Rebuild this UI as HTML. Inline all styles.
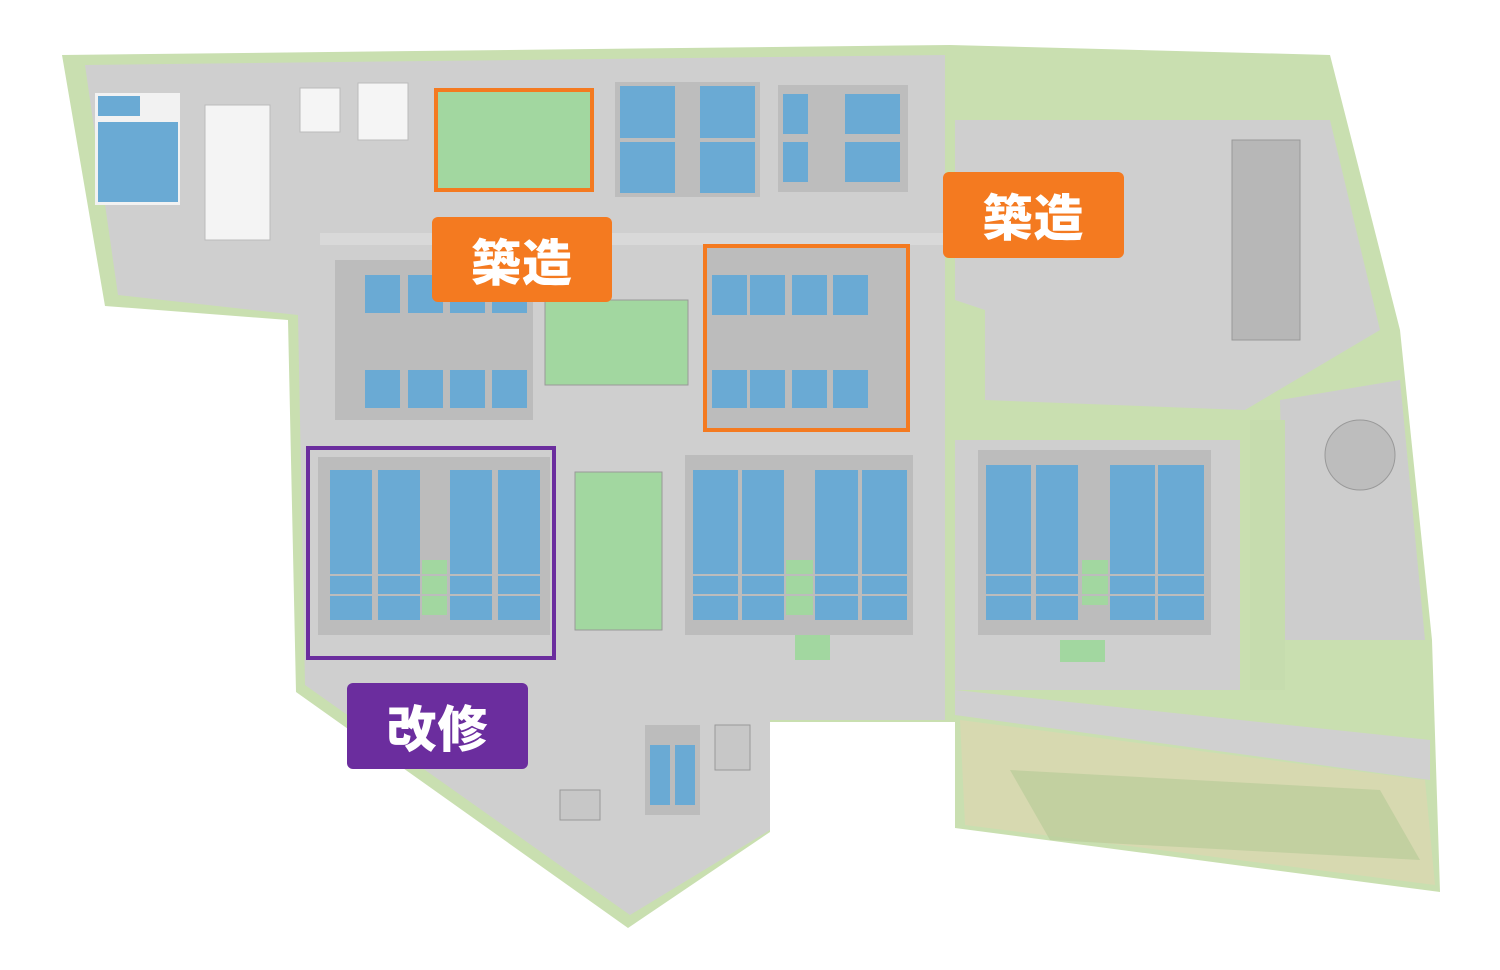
<!DOCTYPE html>
<html><head><meta charset="utf-8"><style>
html,body{margin:0;padding:0;background:#fff;}
.lab{position:absolute;color:#fff;font-family:"Liberation Sans","Noto Sans CJK JP",sans-serif;font-weight:900;font-size:50px;display:flex;align-items:center;justify-content:center;border-radius:6px;letter-spacing:1px;}
</style></head><body>
<div style="position:relative;width:1500px;height:970px;overflow:hidden;">
<svg width="1500" height="970" viewBox="0 0 1500 970" style="position:absolute;left:0;top:0">
<!-- site -->
<polygon points="62,55 950,45 1330,55 1400,330 1432,640 1440,892 955,828 955,722 770,722 770,832 628,928 296,692 288,320 105,306" fill="#c9dfb0"/>
<polygon points="85,65 945,55 945,720 770,720 770,830 630,915 305,685 298,315 118,295" fill="#cfcfcf"/>
<!-- right side -->
<polygon points="955,120 1330,120 1380,330 1245,410 985,400 985,310 955,300" fill="#cfcfcf"/>
<polygon points="955,440 1240,440 1240,690 955,690" fill="#cfcfcf"/>
<polygon points="1280,400 1400,380 1425,640 1285,640" fill="#cdcdcd"/>
<polygon points="955,690 1430,740 1430,780 955,715" fill="#d0d0d0"/>
<polygon points="960,720 1425,780 1435,885 965,825" fill="#d7d9b0"/>
<polygon points="1010,770 1380,790 1420,860 1050,840" fill="#b9cc9a" opacity="0.7"/>
<polygon points="1250,420 1285,420 1285,690 1250,690" fill="#c6dcae"/>
<!-- top-left -->
<rect x="95" y="93" width="85" height="112" fill="#f2f2f2"/>
<rect x="98" y="122" width="80" height="80" fill="#6aaad4"/>
<rect x="98" y="96" width="42" height="20" fill="#6aaad4"/>
<rect x="205" y="105" width="65" height="135" fill="#f4f4f4" stroke="#bbb"/>
<rect x="300" y="88" width="40" height="44" fill="#f5f5f5" stroke="#bbb"/>
<rect x="358" y="83" width="50" height="57" fill="#f5f5f5" stroke="#bbb"/>
<!-- top green -->
<rect x="437" y="90" width="156" height="100" fill="#a2d7a0"/>
<!-- top tanks -->
<rect x="615" y="82" width="145" height="115" fill="#bdbdbd"/>
<rect x="620" y="86" width="55" height="107" fill="#6aaad4"/>
<rect x="700" y="86" width="55" height="107" fill="#6aaad4"/>
<line x1="620" y1="140" x2="755" y2="140" stroke="#bdbdbd" stroke-width="4"/>
<rect x="778" y="85" width="130" height="107" fill="#bdbdbd"/>
<g fill="#6aaad4">
<rect x="783" y="94" width="25" height="40"/><rect x="783" y="142" width="25" height="40"/>
<rect x="845" y="94" width="55" height="40"/><rect x="845" y="142" width="55" height="40"/>
</g>
<rect x="1232" y="140" width="68" height="200" fill="#b7b7b7" stroke="#999"/>
<!-- road band -->
<rect x="320" y="233" width="625" height="12" fill="#d9d9d9"/>
<!-- middle-left block -->
<rect x="335" y="260" width="198" height="160" fill="#bcbcbc"/>
<g fill="#6aaad4">
<rect x="365" y="275" width="35" height="38"/><rect x="408" y="275" width="35" height="38"/><rect x="450" y="275" width="35" height="38"/><rect x="492" y="275" width="35" height="38"/>
<rect x="365" y="370" width="35" height="38"/><rect x="408" y="370" width="35" height="38"/><rect x="450" y="370" width="35" height="38"/><rect x="492" y="370" width="35" height="38"/>
</g>
<rect x="545" y="300" width="143" height="85" fill="#a2d7a0" stroke="#999"/>
<!-- right middle block -->
<rect x="705" y="248" width="202" height="180" fill="#bcbcbc"/>
<g fill="#6aaad4">
<rect x="712" y="275" width="35" height="40"/><rect x="750" y="275" width="35" height="40"/><rect x="792" y="275" width="35" height="40"/><rect x="833" y="275" width="35" height="40"/>
<rect x="712" y="370" width="35" height="38"/><rect x="750" y="370" width="35" height="38"/><rect x="792" y="370" width="35" height="38"/><rect x="833" y="370" width="35" height="38"/>
</g>
<!-- lower blocks -->
<rect x="318" y="457" width="232" height="178" fill="#bcbcbc"/>
<g fill="#6aaad4">
<rect x="330" y="470" width="42" height="150"/><rect x="378" y="470" width="42" height="150"/><rect x="450" y="470" width="42" height="150"/><rect x="498" y="470" width="42" height="150"/>
</g>
<rect x="422" y="560" width="25" height="55" fill="#a2d7a0"/>
<rect x="575" y="472" width="87" height="158" fill="#a2d7a0" stroke="#999"/>
<rect x="685" y="455" width="228" height="180" fill="#bcbcbc"/>
<g fill="#6aaad4">
<rect x="693" y="470" width="45" height="150"/><rect x="742" y="470" width="42" height="150"/><rect x="815" y="470" width="43" height="150"/><rect x="862" y="470" width="45" height="150"/>
</g>
<rect x="786" y="560" width="27" height="55" fill="#a2d7a0"/>
<rect x="978" y="450" width="233" height="185" fill="#bcbcbc"/>
<g fill="#6aaad4">
<rect x="986" y="465" width="45" height="155"/><rect x="1036" y="465" width="42" height="155"/><rect x="1110" y="465" width="45" height="155"/><rect x="1158" y="465" width="46" height="155"/>
</g>
<rect x="1082" y="560" width="26" height="45" fill="#a2d7a0"/>
<g stroke="#bcbcbc" stroke-width="2">
<line x1="325" y1="575" x2="545" y2="575"/><line x1="325" y1="595" x2="545" y2="595"/>
<line x1="690" y1="575" x2="910" y2="575"/><line x1="690" y1="595" x2="910" y2="595"/>
<line x1="983" y1="575" x2="1208" y2="575"/><line x1="983" y1="595" x2="1208" y2="595"/>
</g>
<circle cx="1360" cy="455" r="35" fill="#bdbdbd" stroke="#999"/>
<!-- bottom buildings -->
<rect x="645" y="725" width="55" height="90" fill="#bcbcbc"/>
<rect x="650" y="745" width="20" height="60" fill="#6aaad4"/><rect x="675" y="745" width="20" height="60" fill="#6aaad4"/>
<rect x="715" y="725" width="35" height="45" fill="#c7c7c7" stroke="#999"/>
<rect x="560" y="790" width="40" height="30" fill="#c7c7c7" stroke="#999"/>
<rect x="795" y="635" width="35" height="25" fill="#a2d7a0"/>
<rect x="1060" y="640" width="45" height="22" fill="#a2d7a0"/>
<!-- borders -->
<rect x="436" y="90" width="156" height="100" fill="none" stroke="#f47a20" stroke-width="4"/>
<rect x="705" y="246" width="203" height="184" fill="none" stroke="#f47a20" stroke-width="4"/>
<rect x="308" y="448" width="246" height="210" fill="none" stroke="#6b2d9e" stroke-width="4"/>
</svg>
<div class="lab" style="left:432px;top:217px;width:180px;height:85px;background:#f47a20;">築造</div>
<div class="lab" style="left:943px;top:172px;width:181px;height:86px;background:#f47a20;">築造</div>
<div class="lab" style="left:347px;top:683px;width:181px;height:86px;background:#6b2d9e;">改修</div>
</div>
</body></html>
